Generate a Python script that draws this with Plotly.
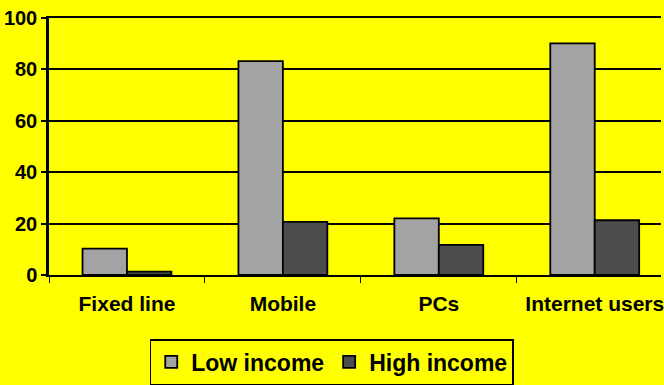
import plotly.graph_objects as go

categories = ["Fixed line", "Mobile", "PCs", "Internet users"]
low_income = [10.3, 83.2, 22.0, 90.1]
high_income = [1.3, 20.7, 11.7, 21.3]
y_ticks = [0, 20, 40, 60, 80, 100]

FONT = "Liberation Sans, Arial, sans-serif"
YELLOW = "#FFFF00"

fig = go.Figure()
fig.add_trace(go.Bar(
    x=categories, y=low_income, name="Low income",
    marker=dict(color="#A3A3A3", line=dict(color="black", width=1.8)),
))
fig.add_trace(go.Bar(
    x=categories, y=high_income, name="High income",
    marker=dict(color="#4D4D4D", line=dict(color="black", width=1.8)),
))

fig.update_layout(
    width=664, height=385,
    margin=dict(l=49, r=0, t=18, b=105.5, pad=0),
    paper_bgcolor=YELLOW, plot_bgcolor=YELLOW,
    barmode="group", bargap=0.43, bargroupgap=0,
    font=dict(family=FONT, color="black"),
    showlegend=True,
    legend=dict(
        orientation="h", x=0.462, xanchor="center", y=-0.25, yanchor="top",
        bgcolor=YELLOW, bordercolor="black", borderwidth=1.5,
        font=dict(family=FONT, size=23, color="black", weight="bold"),
        traceorder="normal", tracegroupgap=0, itemwidth=30,
    ),
    xaxis=dict(
        type="category", range=[-0.5, 3.425],
        tickson="boundaries", ticks="outside", ticklen=6, tickwidth=1.2, tickcolor="black",
        showgrid=False, showline=True, mirror=True, linecolor="black", linewidth=2.2,
        tickfont=dict(family=FONT, size=21, color="black", weight="bold"),
        ticklabelstandoff=9,
    ),
    yaxis=dict(
        range=[0, 100], tickvals=y_ticks,
        ticks="outside", ticklen=5, tickwidth=1.5, tickcolor="black",
        showgrid=True, gridcolor="black", gridwidth=1.6,
        showline=True, linecolor="black", linewidth=2.5,
        zeroline=False,
        tickfont=dict(family=FONT, size=20, color="black", weight="bold"),
        ticklabelstandoff=0,
    ),
)

fig.write_html("out.html")
